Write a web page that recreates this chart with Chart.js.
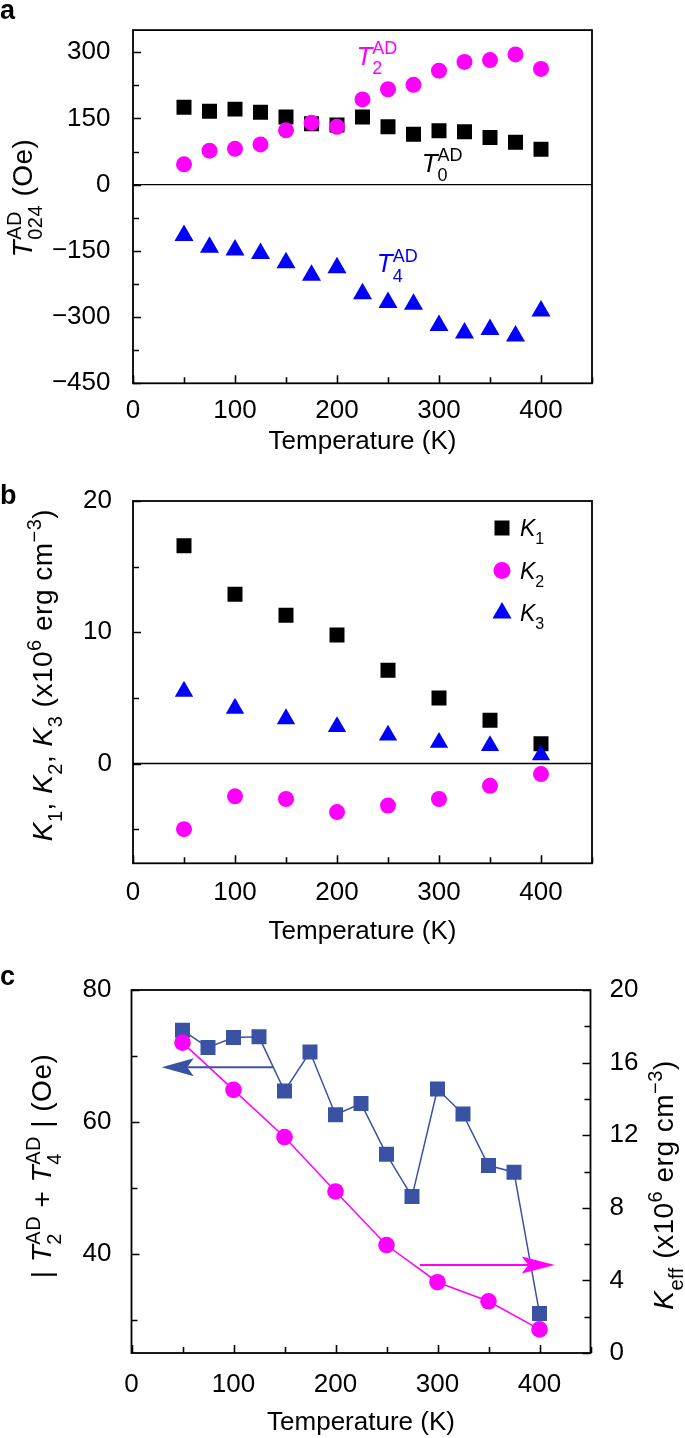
<!DOCTYPE html>
<html><head><meta charset="utf-8">
<script src="https://cdn.jsdelivr.net/npm/chart.js@4.4.1/dist/chart.umd.min.js"></script>
<style>
html,body{margin:0;padding:0;background:#fff;}
#wrap{position:relative;width:685px;height:1438px;overflow:hidden;background:#fff;}
canvas{position:absolute;left:0;}
</style></head><body>
<div id="wrap">
<canvas id="ca" width="685" height="470" style="top:0px"></canvas>
<canvas id="cb" width="685" height="480" style="top:470px"></canvas>
<canvas id="cc" width="685" height="488" style="top:950px"></canvas>
</div>
<script>
// ---------------- data ----------------
const tempsA = [50,75,100,125,150,175,200,225,250,275,300,325,350,375,400];
const T0 = [175,166,171,164,153,138,135,153,131,114,122,120,107,96,80];
const T2 = [46,77,81,91,123,140,131,193,216,226,258,278,282,295,262];
const T4 = [-115,-142,-148,-156,-177,-205,-188,-247,-267,-271,-319,-336,-328,-343,-286];

const tempsB = [50,100,150,200,250,300,350,400];
const K1 = [16.6,12.9,11.3,9.8,7.1,5.0,3.3,1.5];
const K2 = [-5.0,-2.5,-2.7,-3.7,-3.2,-2.7,-1.7,-0.8];
const K3 = [5.5,4.2,3.4,2.8,2.15,1.6,1.35,0.65];

const tempsC = [50,75,100,125,150,175,200,225,250,275,300,325,350,375,400];
const sumT24 = [73.9,71.3,72.8,72.9,64.7,70.6,61.1,62.8,55.1,48.7,65.0,61.2,53.4,52.4,31.0];
const tempsKeff = [50,100,150,200,250,300,350,400];
const Keff = [17.1,14.5,11.9,8.9,5.95,3.9,2.85,1.3];

const xTicks = {min:0, max:450, step:50, major:100};
const aTicks = {min:-450, max:350, step:75, major:150};
const bTicks = {min:-7.6, max:20, step:5, major:10};
const cLeftTicks = {min:25, max:80, step:10, major:20};
const cRightTicks = {min:0, max:20, step:2, major:4};

// ---------------- helpers ----------------
const FONT = '"Liberation Sans", Arial, Helvetica, sans-serif';
const MAGENTA = '#ff00ff', BLUE = '#0000ff', NAVY = '#3a52a3';
const TICK_SIZE = 26, XTITLE_SIZE = 26, YTITLE_SIZE = 28;
Chart.defaults.font.family = FONT;
Chart.defaults.color = '#000';

const pts = (xs, ys) => xs.map((x, i) => ({x, y: ys[i]}));
const fmt = v => (v < 0 ? '\u2212' : '') + Math.abs(v);
const isMult = (v, s) => Math.abs(v / s - Math.round(v / s)) < 1e-6;

function linScale(t, extra) {
  return Object.assign({
    type: 'linear', min: t.min, max: t.max,
    grid: {display: false}, border: {display: false},
    afterBuildTicks: s => { s.ticks = s.ticks.filter(k => isMult(k.value, t.step)); },
    ticks: {
      stepSize: t.step, includeBounds: false, autoSkip: false, maxRotation: 0, minRotation: 0,
      color: '#000', font: {size: TICK_SIZE, family: FONT},
      callback: v => isMult(v, t.major) ? fmt(v) : ''
    }
  }, extra || {});
}

function drawRich(ctx, parts, x, y, size, align, color, opt) {
  opt = opt || {};
  const sc = opt.small || 0.68, ls = opt.spacing || 0;
  const small = Math.round(size * sc);
  const fN = size + 'px ' + FONT, fI = 'italic ' + size + 'px ' + FONT, fS = small + 'px ' + FONT;
  ctx.save();
  if ('letterSpacing' in ctx) ctx.letterSpacing = ls + 'px';
  const w = p => {
    if (typeof p === 'string') { ctx.font = fN; return ctx.measureText(p).width; }
    if (p.i) { ctx.font = fI; return ctx.measureText(p.i).width; }
    ctx.font = fS;
    return Math.max(p.sup ? ctx.measureText(p.sup).width : 0, p.sub ? ctx.measureText(p.sub).width : 0);
  };
  const total = parts.reduce((s, p) => s + w(p), 0);
  let cx = align === 'center' ? x - total / 2 : x;
  ctx.fillStyle = color; ctx.textBaseline = 'alphabetic'; ctx.textAlign = 'left';
  for (const p of parts) {
    const ww = w(p);
    if (typeof p === 'string') { ctx.font = fN; ctx.fillText(p, cx, y); }
    else if (p.i) { ctx.font = fI; ctx.fillText(p.i, cx, y); }
    else {
      ctx.font = fS;
      if (p.sup) ctx.fillText(p.sup, cx, y - size * 0.4);
      if (p.sub) ctx.fillText(p.sub, cx, y + size * 0.36);
    }
    cx += ww;
  }
  ctx.restore();
}
function drawRichRot(ctx, parts, bx, cy, size, color) {
  ctx.save(); ctx.translate(bx, cy); ctx.rotate(-Math.PI / 2);
  drawRich(ctx, parts, 0, 0, size, 'center', color, {small: 0.72, spacing: 0.5}); ctx.restore();
}
function arrow(ctx, x0, y0, x1, y1, color, headLen, headHalf, lw) {
  const dir = Math.sign(x1 - x0);
  ctx.save(); ctx.strokeStyle = color; ctx.fillStyle = color; ctx.lineWidth = lw;
  ctx.beginPath(); ctx.moveTo(x0, y0); ctx.lineTo(x1 - dir * headLen * 0.8, y1); ctx.stroke();
  ctx.beginPath(); ctx.moveTo(x1, y1);
  ctx.lineTo(x1 - dir * headLen, y1 - headHalf);
  ctx.lineTo(x1 - dir * headLen * 0.8, y1);
  ctx.lineTo(x1 - dir * headLen, y1 + headHalf);
  ctx.closePath(); ctx.fill(); ctx.restore();
}

function deco(cfg) {
  return {
    id: 'deco',
    beforeDatasetsDraw(chart) {
      const {ctx, chartArea: a} = chart;
      ctx.save(); ctx.strokeStyle = '#000';
      if (cfg.zero) {
        const y = chart.scales.y.getPixelForValue(0);
        ctx.lineWidth = 1.4; ctx.beginPath(); ctx.moveTo(a.left, y); ctx.lineTo(a.right, y); ctx.stroke();
      }
      ctx.lineWidth = 1.6;
      for (const id of Object.keys(cfg.major)) {
        const s = chart.scales[id], maj = cfg.major[id];
        ctx.beginPath();
        s.ticks.forEach(t => {
          const len = isMult(t.value, maj) ? 8 : 6;
          const p = Math.round(s.getPixelForValue(t.value)) + 0.5;
          if (s.isHorizontal()) { ctx.moveTo(p, a.bottom); ctx.lineTo(p, a.bottom - len); }
          else if (s.position === 'left') { ctx.moveTo(a.left, p); ctx.lineTo(a.left + len, p); }
          else { ctx.moveTo(a.right, p); ctx.lineTo(a.right - len, p); }
        });
        ctx.stroke();
      }
      ctx.lineWidth = 1.8;
      ctx.strokeRect(a.left, a.top, a.right - a.left, a.bottom - a.top);
      ctx.restore();
    },
    afterDraw(chart) {
      const ctx = chart.ctx, a = chart.chartArea;
      ctx.save();
      ctx.font = XTITLE_SIZE + 'px ' + FONT; ctx.fillStyle = '#000'; ctx.textAlign = 'center'; ctx.textBaseline = 'alphabetic';
      ctx.fillText('Temperature (K)', (a.left + a.right) / 2, cfg.xTitleY);
      ctx.font = 'bold 27px ' + FONT; ctx.textAlign = 'left';
      ctx.fillText(cfg.letter, 0, cfg.letterY);
      ctx.restore();
      cfg.extra(chart, ctx, a);
    }
  };
}

function baseOptions(pad, xH, xPad) {
  const x = linScale(xTicks, {position: 'bottom', afterFit: s => { s.height = xH; }});
  x.ticks.padding = xPad;
  return {
    responsive: false, animation: false, devicePixelRatio: 1,
    layout: {padding: pad},
    plugins: {legend: {display: false}, tooltip: {enabled: false}},
    scales: {x}
  };
}

// ---------------- panel a ----------------
(function () {
  const opts = baseOptions({top: 21.7, left: 0, right: 93, bottom: 0}, 470 - 383.3, 3.5);
  opts.scales.y = linScale(aTicks, {position: 'left', afterFit: s => { s.width = 133; }});
  opts.scales.y.ticks.padding = 14.5;
  new Chart(document.getElementById('ca'), {
    type: 'scatter',
    data: {datasets: [
      {label: 'T2', data: pts(tempsA, T2), pointStyle: 'circle', pointRadius: 8, backgroundColor: MAGENTA, borderWidth: 0},
      {label: 'T0', data: pts(tempsA, T0), pointStyle: 'rect', pointRadius: 10.6, backgroundColor: '#000', borderWidth: 0},
      {label: 'T4', data: pts(tempsA, T4), pointStyle: 'triangle', pointRadius: 11, backgroundColor: BLUE, borderWidth: 0}
    ]},
    options: opts,
    plugins: [deco({
      zero: true, major: {x: xTicks.major, y: aTicks.major}, xTitleY: 449, letter: 'a', letterY: 19,
      extra(chart, ctx, a) {
        const sx = chart.scales.x, sy = chart.scales.y;
        drawRich(ctx, [{i: 'T'}, {sup: 'AD', sub: '2'}], sx.getPixelForValue(219), sy.getPixelForValue(272), 26, 'left', MAGENTA);
        drawRich(ctx, [{i: 'T'}, {sup: 'AD', sub: '0'}], sx.getPixelForValue(283), sy.getPixelForValue(29), 26, 'left', '#000');
        drawRich(ctx, [{i: 'T'}, {sup: 'AD', sub: '4'}], sx.getPixelForValue(239), sy.getPixelForValue(-199), 26, 'left', BLUE);
        drawRichRot(ctx, [{i: 'T'}, {sup: 'AD', sub: '024'}, ' (Oe)'], 32, 198, YTITLE_SIZE, '#000');
      }
    })]
  });
})();

// ---------------- panel b ----------------
(function () {
  const opts = baseOptions({top: 31, left: 0, right: 93, bottom: 0}, 480 - 393.3, 5.5);
  opts.scales.y = linScale(bTicks, {position: 'left', afterFit: s => { s.width = 133; }});
  opts.scales.y.ticks.padding = 13;
  const ds = [
    {label: 'K3', data: pts(tempsB, K3), pointStyle: 'triangle', pointRadius: 10.6, backgroundColor: BLUE, borderWidth: 0},
    {label: 'K2', data: pts(tempsB, K2), pointStyle: 'circle', pointRadius: 8, backgroundColor: MAGENTA, borderWidth: 0},
    {label: 'K1', data: pts(tempsB, K1), pointStyle: 'rect', pointRadius: 10.6, backgroundColor: '#000', borderWidth: 0}
  ];
  new Chart(document.getElementById('cb'), {
    type: 'scatter',
    data: {datasets: ds},
    options: opts,
    plugins: [deco({
      zero: true, major: {x: xTicks.major, y: bTicks.major}, xTitleY: 469, letter: 'b', letterY: 34,
      extra(chart, ctx, a) {
        const items = [[ds[2], '1'], [ds[1], '2'], [ds[0], '3']];
        items.forEach(([d, sub], i) => {
          const mx = a.left + 369, my = a.top + 27 + i * 42.5;
          ctx.save(); ctx.fillStyle = d.backgroundColor;
          Chart.helpers.drawPoint(ctx, {pointStyle: d.pointStyle, radius: d.pointStyle === 'rect' ? 10.6 : (d.pointStyle === 'circle' ? 8.5 : 11), rotation: 0, borderWidth: 0}, mx, my);
          ctx.restore();
          drawRich(ctx, [{i: 'K'}, {sub: sub}], mx + 18, my + 8, 23, 'left', '#000');
        });
        drawRichRot(ctx, [{i: 'K'}, {sub: '1'}, ', ', {i: 'K'}, {sub: '2'}, ', ', {i: 'K'}, {sub: '3'}, ' (x10', {sup: '6'}, ' erg cm', {sup: '\u22123'}, ')'],
          52, 675 - 470, YTITLE_SIZE, '#000');
      }
    })]
  });
})();

// ---------------- panel c ----------------
(function () {
  const opts = baseOptions({top: 40, left: 0, right: 0, bottom: 0}, 488 - 403, 8.5);
  opts.scales.y = linScale(cLeftTicks, {position: 'left', afterFit: s => { s.width = 131.5; }});
  opts.scales.y.ticks.padding = 12;
  opts.scales.y1 = linScale(cRightTicks, {position: 'right', afterFit: s => { s.width = 685 - 590.5; }});
  opts.scales.y1.ticks.padding = 11;
  new Chart(document.getElementById('cc'), {
    type: 'scatter',
    data: {datasets: [
      {label: 'Keff', data: pts(tempsKeff, Keff), yAxisID: 'y1', showLine: true, borderColor: MAGENTA, borderWidth: 1.5,
        pointStyle: 'circle', pointRadius: 8.3, pointBackgroundColor: MAGENTA, pointBorderWidth: 0, backgroundColor: MAGENTA},
      {label: '|T2+T4|', data: pts(tempsC, sumT24), yAxisID: 'y', showLine: true, borderColor: NAVY, borderWidth: 1.5,
        pointStyle: 'rect', pointRadius: 10.6, pointBackgroundColor: NAVY, pointBorderWidth: 0, backgroundColor: NAVY}
    ]},
    options: opts,
    plugins: [deco({
      zero: false, major: {x: xTicks.major, y: cLeftTicks.major, y1: cRightTicks.major}, xTitleY: 480, letter: 'c', letterY: 35,
      extra(chart, ctx, a) {
        const sx = chart.scales.x, sy = chart.scales.y, sy1 = chart.scales.y1;
        const yb = sy.getPixelForValue(68.3);
        arrow(ctx, sx.getPixelForValue(138.7), yb, sx.getPixelForValue(29.6), yb, NAVY, 32, 9, 2);
        const ym = sy1.getPixelForValue(4.85);
        arrow(ctx, sx.getPixelForValue(282.8), ym, sx.getPixelForValue(415), ym, MAGENTA, 33, 8.5, 2);
        drawRichRot(ctx, ['| ', {i: 'T'}, {sup: 'AD', sub: '2'}, ' + ', {i: 'T'}, {sup: 'AD', sub: '4'}, ' | (Oe)'],
          51, 1166 - 950, YTITLE_SIZE, '#000');
        drawRichRot(ctx, [{i: 'K'}, {sub: 'eff'}, ' (x10', {sup: '6'}, ' erg cm', {sup: '\u22123'}, ')'],
          673, 1185 - 950, YTITLE_SIZE, '#000');
      }
    })]
  });
})();
</script>
</body></html>
